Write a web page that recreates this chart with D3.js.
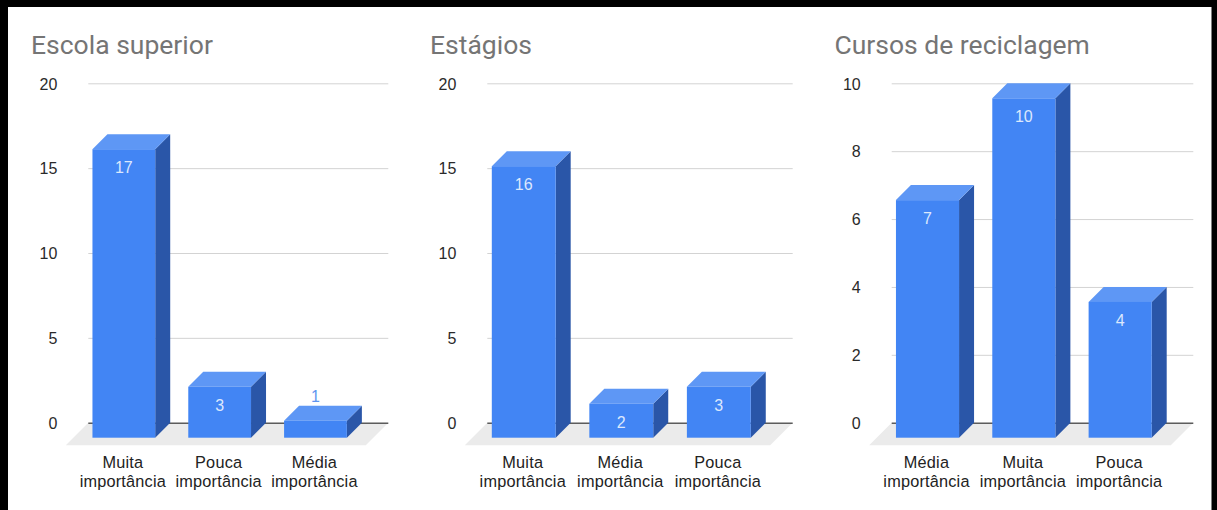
<!DOCTYPE html>
<html>
<head>
<meta charset="utf-8">
<script src="https://cdn.jsdelivr.net/npm/d3@7"></script>
<style>
  html, body { margin: 0; padding: 0; background: #fff; }
  svg { display: block; }
</style>
</head>
<body>
<svg id="chart" width="1217" height="510"></svg>
<script>
// Survey results: importance ratings for three training options
const titles = ["Escola superior", "Estágios", "Cursos de reciclagem"];

const escolaCategories = ["Muita importância", "Pouca importância", "Média importância"];
const escolaValues = [17, 3, 1];

const estagiosCategories = ["Muita importância", "Média importância", "Pouca importância"];
const estagiosValues = [16, 2, 3];

const cursosCategories = ["Média importância", "Muita importância", "Pouca importância"];
const cursosValues = [7, 10, 4];

const yMaxima = [20, 20, 10];
const escolaTicks = [0, 5, 10, 15, 20];
const estagiosTicks = [0, 5, 10, 15, 20];
const cursosTicks = [0, 2, 4, 6, 8, 10];

const panels = [
  { title: titles[0], cats: escolaCategories, vals: escolaValues, max: yMaxima[0], ticks: escolaTicks, left: 88.3, right: 388.3 },
  { title: titles[1], cats: estagiosCategories, vals: estagiosValues, max: yMaxima[1], ticks: estagiosTicks, left: 487.3, right: 792.7 },
  { title: titles[2], cats: cursosCategories, vals: cursosValues, max: yMaxima[2], ticks: cursosTicks, left: 891.7, right: 1193.3 }
];

const svg = d3.select("#chart");
svg.append("rect").attr("width", 1217).attr("height", 510).attr("fill", "#fff");

const plotTop = 83.3, plotBottom = 422.7;
const depth = 15;          // bar extrusion
const floorDepth = 22.5;   // floor extrusion
const sansFont = "'Liberation Sans', Arial, sans-serif";

const colors = {
  front: "#4285f4",
  top: "#5e97f5",
  side: "#2a56a8",
  floor: "#ebebeb",
  grid: "#d3d3d3",
  baseline: "#5c5c5c",
  tick: "#2a2a2a",
  cat: "#222",
  title: "#757575",
  inLabel: "#dce8fd",
  outLabel: "#5f95ef"
};

panels.forEach(p => {
  const g = svg.append("g");

  const y = d3.scaleLinear().domain([0, p.max]).range([plotBottom, plotTop]);
  // band scale positions the back plane of each bar
  const x = d3.scaleBand()
    .domain(p.cats)
    .range([p.left, p.right])
    .paddingInner(0.345)
    .paddingOuter(0.238)
    .align(0.42);
  const w = x.bandwidth();
  const y0 = y(0);

  // title
  g.append("text")
    .attr("x", p.left - 57.3)
    .attr("y", 53.5)
    .attr("font-family", "Roboto, 'Noto Sans', sans-serif")
    .attr("font-size", 26.5)
    .attr("fill", colors.title)
    .text(p.title);

  // floor
  g.append("path")
    .attr("d", d3.line()([
      [p.left, y0], [p.right, y0],
      [p.right - floorDepth, y0 + floorDepth], [p.left - floorDepth, y0 + floorDepth]
    ]) + "Z")
    .attr("fill", colors.floor);

  // gridlines and axis labels
  const axis = d3.axisLeft(y).tickValues(p.ticks).tickSize(0).tickPadding(0).tickFormat(d3.format("d"));
  const ag = g.append("g").attr("transform", `translate(${p.left},0)`).call(axis);
  ag.attr("font-size", null).attr("font-family", null);
  ag.select(".domain").remove();
  ag.selectAll(".tick line")
    .attr("x2", p.right - p.left)
    .attr("stroke", d => d === 0 ? colors.baseline : colors.grid)
    .attr("stroke-width", d => d === 0 ? 1.6 : 1);
  ag.selectAll(".tick text")
    .attr("x", -31)
    .attr("dy", "0.36em")
    .attr("text-anchor", "end")
    .style("font-family", sansFont)
    .style("font-size", "16px")
    .attr("fill", colors.tick);

  // bars
  p.cats.forEach((c, i) => {
    const v = p.vals[i];
    const bx = x(c);            // back-left x
    const fx = bx - depth;      // front-left x
    const yb = y(v);            // back top
    const ft = yb + depth;      // front top
    const fb = y0 + depth;      // front bottom

    g.append("path")
      .attr("d", d3.line()([[fx + w, ft], [fx + w + depth, yb], [fx + w + depth, y0], [fx + w, fb]]) + "Z")
      .attr("fill", colors.side);
    g.append("path")
      .attr("d", d3.line()([[fx, ft], [fx + depth, yb], [fx + w + depth, yb], [fx + w, ft]]) + "Z")
      .attr("fill", colors.top);
    g.append("rect")
      .attr("x", fx).attr("y", ft)
      .attr("width", w).attr("height", fb - ft)
      .attr("fill", colors.front);

    const cx = fx + w / 2;
    const inside = (fb - ft) > 28;
    g.append("text")
      .attr("x", cx)
      .attr("y", inside ? ft + 24 : yb - 4)
      .attr("text-anchor", "middle")
      .style("font-family", sansFont)
      .style("font-size", "16px")
      .attr("fill", inside ? colors.inLabel : colors.outLabel)
      .text(v);

    // two-line category label
    const parts = c.split(" ");
    const t = g.append("text")
      .attr("text-anchor", "middle")
      .style("font-family", sansFont)
      .style("font-size", "16.3px")
      .style("letter-spacing", "0.2px")
      .attr("fill", colors.cat);
    parts.forEach((s, k) => {
      t.append("tspan").attr("x", cx - 1).attr("y", 468.3 + k * 18.4).text(s);
    });
  });
});

// dark frame around the image
svg.append("rect").attr("x", 0).attr("y", 0).attr("width", 1217).attr("height", 7).attr("fill", "#000");
svg.append("rect").attr("x", 0).attr("y", 0).attr("width", 8).attr("height", 510).attr("fill", "#000");
svg.append("rect").attr("x", 1211.5).attr("y", 0).attr("width", 5.5).attr("height", 510).attr("fill", "#000");
</script>
</body>
</html>
